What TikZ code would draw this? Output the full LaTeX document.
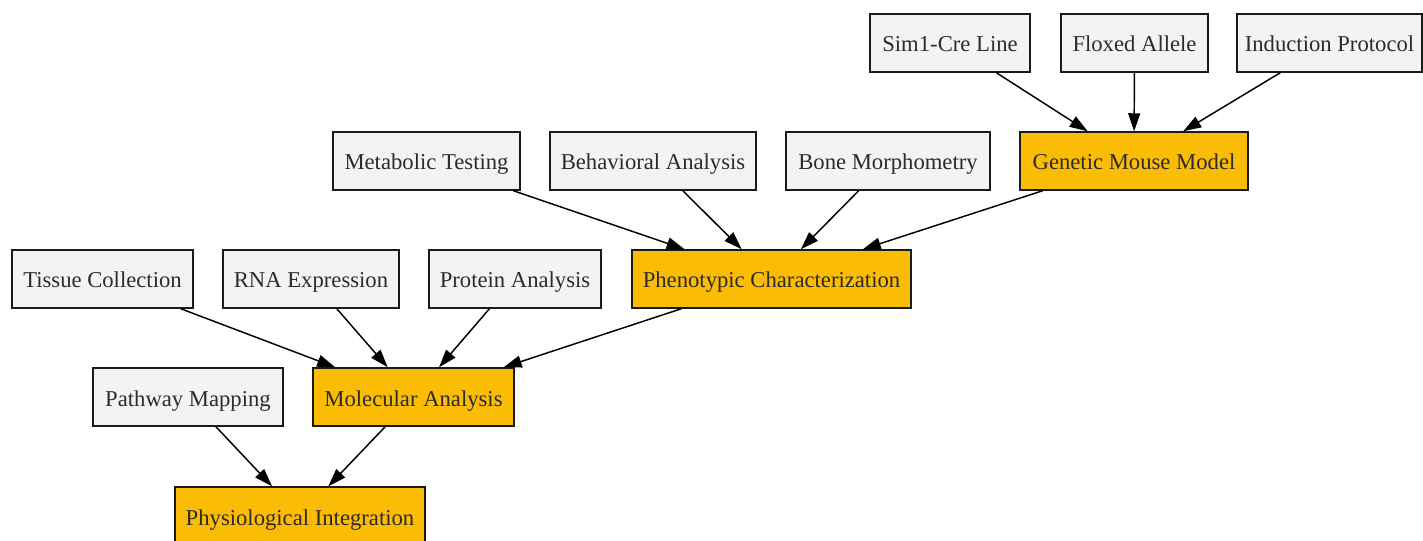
\documentclass[tikz,border=0pt]{standalone}
\usepackage{fontspec}
\setmainfont{Liberation Serif}
\usetikzlibrary{arrows.meta}
\definecolor{boxgray}{HTML}{F2F3F4}
\definecolor{boxgold}{HTML}{FBBC05}
\definecolor{txt}{HTML}{2B2B2B}
\definecolor{edge}{HTML}{1A1A1A}
\tikzset{
  base/.style={draw=edge, line width=1.1pt, rectangle, minimum height=43.5pt, inner sep=0pt,
    text height=13.5pt, text depth=0pt,
    text=txt, font=\fontsize{17}{20}\selectfont},
  plain/.style={base, fill=boxgray},
  key/.style={base, fill=boxgold},
  link/.style={draw=black, line width=1.1pt, -{Triangle[length=13.5pt,width=9pt]}}
}
\begin{document}
\begin{tikzpicture}[x=0.75pt, y=-0.75pt]
\useasboundingbox (0,0) rectangle (1423,541);
\node[plain, minimum width=120pt] (sim) at (950,43) {Sim1-Cre Line};
\node[plain, minimum width=110.25pt] (flox) at (1134.5,43) {Floxed Allele};
\node[plain, minimum width=138.75pt] (ind) at (1329.5,43) {Induction Protocol};
\node[plain, minimum width=140.25pt] (met) at (426.5,161) {Metabolic Testing};
\node[plain, minimum width=154.5pt] (beh) at (653,161) {Behavioral Analysis};
\node[plain, minimum width=153pt] (bone) at (888,161) {Bone Morphometry};
\node[key, minimum width=171pt] (gmm) at (1134,161) {Genetic Mouse Model};
\node[plain, minimum width=135.75pt] (tis) at (102.5,279) {Tissue Collection};
\node[plain, minimum width=132pt] (rna) at (311,279) {RNA Expression};
\node[plain, minimum width=129pt] (prot) at (515,279) {Protein Analysis};
\node[key, minimum width=209.25pt] (pc) at (771.5,279) {Phenotypic Characterization};
\node[plain, minimum width=142.5pt] (path) at (188,397) {Pathway Mapping};
\node[key, minimum width=150.75pt] (ma) at (413.5,397) {Molecular Analysis};
\node[key, minimum width=187.5pt] (pi) at (300,516) {Physiological Integration};
\draw[link] (sim) -- (gmm);
\draw[link] (flox) -- (gmm);
\draw[link] (ind) -- (gmm);
\draw[link] (met) -- (pc);
\draw[link] (beh) -- (pc);
\draw[link] (bone) -- (pc);
\draw[link] (gmm) -- (pc);
\draw[link] (tis) -- (ma);
\draw[link] (rna) -- (ma);
\draw[link] (prot) -- (ma);
\draw[link] (pc) -- (ma);
\draw[link] (path) -- (pi);
\draw[link] (ma) -- (pi);
\end{tikzpicture}
\end{document}
